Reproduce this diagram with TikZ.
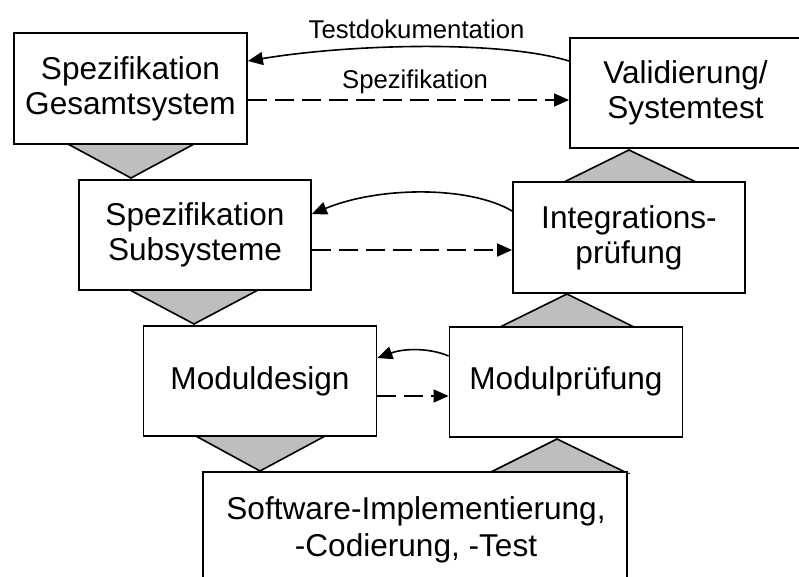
\documentclass[tikz,border=0pt]{standalone}
\usepackage{fontspec}
\setmainfont{Liberation Sans}
\usetikzlibrary{arrows.meta}
\definecolor{wedgegray}{RGB}{189,190,192}
\begin{document}
\begin{tikzpicture}[x=1bp,y=-1bp,
  phase/.style={draw=black,line width=1.8bp,fill=white,align=center,
    font=\fontsize{31.7}{35}\selectfont,inner sep=0pt,
    minimum width=232bp,minimum height=110bp},
  caption/.style={align=center,inner sep=0pt,font=\fontsize{31.7}{36.7}\selectfont},
  wedge/.style={draw=black,line width=1.6bp,fill=wedgegray,line join=miter},
  back/.style={line width=1.6bp,-{Triangle[length=15bp,width=13bp]}},
  fwd/.style={line width=1.6bp,dash pattern=on 19bp off 8bp,-{Triangle[length=15bp,width=13bp]}},
  lbl/.style={font=\fontsize{25.8}{30}\selectfont,inner sep=0pt}]
\useasboundingbox (0,0) rectangle (799,577);
\clip (0,0) rectangle (799,577);

% connecting wedges, drawn first so the boxes cover their bases
\filldraw[wedge] (66,143) -- (131,178) -- (196,143) -- cycle;
\filldraw[wedge] (128,289) -- (194,324) -- (260,289) -- cycle;
\filldraw[wedge] (194,435) -- (260,471) -- (327,435) -- cycle;
\filldraw[wedge] (489,473) -- (557,439) -- (627,473) -- cycle;
\filldraw[wedge] (498,328) -- (567,294) -- (636,328) -- cycle;
\filldraw[wedge] (562,183) -- (629,150) -- (698,183) -- cycle;

% phase boxes
\node[phase,minimum width=233bp,minimum height=111bp] (sg) at (130.5,88.5)
  {Spezifikation\\Gesamtsystem};
\node[phase] (ss) at (195,235) {Spezifikation\\Subsysteme};
\node[phase,minimum width=233bp] (md) at (260,381) {Moduldesign};
\node[phase,minimum width=233bp] (mp) at (566,381.7) {Modulprüfung};
\node[phase,minimum height=111bp] (ip) at (629,237.5) {Integrations-\\prüfung};
\node[phase,minimum width=231bp] (vs) at (685.5,93) {Validierung/\\Systemtest};
\node[phase,minimum width=424bp,minimum height=150bp] (sw) at (414.7,547.3) {};
\node[caption] (swt) at (416,530) {Software-Implementierung,\\-Codierung, -Test};

% anchor points of the feedback and hand-over arrows
\coordinate (a1) at (vs.west |- 0,61);
\coordinate (b1) at (sg.east |- 0,61);
\coordinate (a2) at (sg.east |- 0,100);
\coordinate (b2) at (vs.west |- 0,100);
\coordinate (a3) at (ip.west |- 0,211);
\coordinate (b3) at (ss.east |- 0,214);
\coordinate (a4) at (ss.east |- 0,250);
\coordinate (b4) at (ip.west |- 0,250);
\coordinate (a5) at (mp.west |- 0,356);
\coordinate (b5) at (md.east |- 0,358);
\coordinate (a6) at (md.east |- 0,396);
\coordinate (b6) at (mp.west |- 0,396);

\draw[back] (a1) .. controls (500,40) and (350,44) .. (b1);
\draw[fwd] (a2) -- (b2);
\draw[back] (a3) .. controls (470,186) and (380,186) .. (b3);
\draw[fwd] (a4) -- (b4);
\draw[back] (a5) .. controls (430,348) and (405,348) .. (b5);
\draw[fwd] (a6) -- (b6);

\node[lbl] (ltd) at (416.5,29.5) {Testdokumentation};
\node[lbl] (lsp) at (415,82) {Spezifikation};
\end{tikzpicture}
\end{document}
